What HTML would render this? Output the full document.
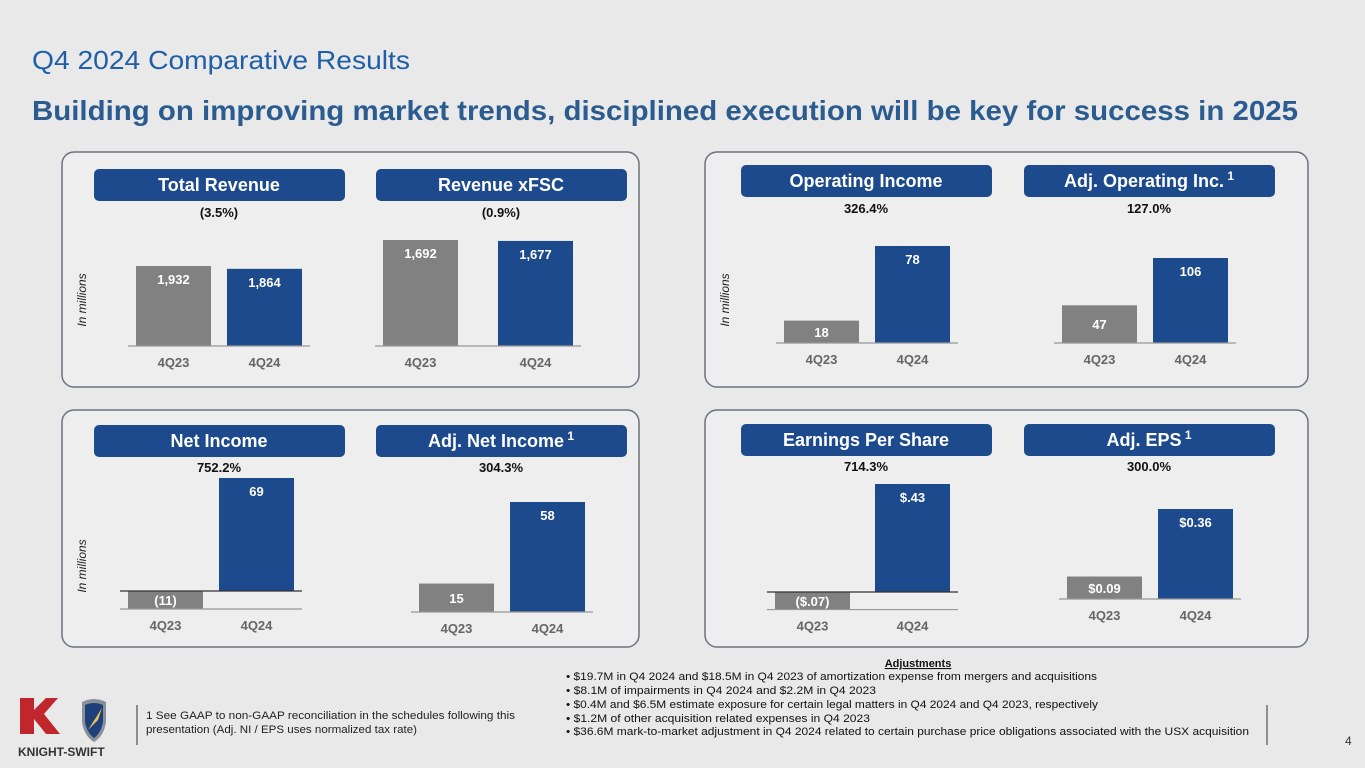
<!DOCTYPE html>
<html><head><meta charset="utf-8"><style>
html,body{margin:0;padding:0;background:#e9e9ea;}
svg{display:block;font-family:"Liberation Sans",sans-serif;}
</style></head><body>
<svg id="s" width="1365" height="768" viewBox="0 0 1365 768">
<rect width="1365" height="768" fill="#e9e9ea"/>
<text x="32" y="69" font-size="26" fill="#1f5fa8" textLength="378" lengthAdjust="spacingAndGlyphs">Q4 2024 Comparative Results</text>
<text x="32" y="120" font-size="28" font-weight="bold" fill="#2b5c8f" textLength="1266" lengthAdjust="spacingAndGlyphs">Building on improving market trends, disciplined execution will be key for success in 2025</text>
<rect x="62" y="152" width="577" height="235" rx="12" fill="#eeeeef" stroke="#6b7380" stroke-width="1.5"/>
<rect x="705" y="152" width="603" height="235" rx="12" fill="#eeeeef" stroke="#6b7380" stroke-width="1.5"/>
<rect x="62" y="410" width="577" height="237" rx="12" fill="#eeeeef" stroke="#6b7380" stroke-width="1.5"/>
<rect x="705" y="410" width="603" height="237" rx="12" fill="#eeeeef" stroke="#6b7380" stroke-width="1.5"/>
<text transform="translate(86,300) rotate(-90)" text-anchor="middle" font-size="12" font-style="italic" fill="#222">In millions</text>
<text transform="translate(729,300) rotate(-90)" text-anchor="middle" font-size="12" font-style="italic" fill="#222">In millions</text>
<text transform="translate(86,566) rotate(-90)" text-anchor="middle" font-size="12" font-style="italic" fill="#222">In millions</text>
<g id="charts"></g>
<text x="918" y="667" text-anchor="middle" font-size="11" font-weight="bold" fill="#111" text-decoration="underline">Adjustments</text>
<g font-size="11" fill="#111">
<text x="566" y="680" textLength="531" lengthAdjust="spacingAndGlyphs">•  $19.7M in Q4 2024 and $18.5M in Q4 2023 of amortization expense from mergers and acquisitions</text>
<text x="566" y="694" textLength="310" lengthAdjust="spacingAndGlyphs">•  $8.1M of impairments in Q4 2024 and $2.2M in Q4 2023</text>
<text x="566" y="708" textLength="532" lengthAdjust="spacingAndGlyphs">•  $0.4M and $6.5M estimate exposure for certain legal matters  in Q4 2024 and Q4 2023, respectively</text>
<text x="566" y="722" textLength="304" lengthAdjust="spacingAndGlyphs">•  $1.2M of other acquisition related expenses in Q4 2023</text>
<text x="566" y="735" textLength="683" lengthAdjust="spacingAndGlyphs">•  $36.6M mark-to-market adjustment in Q4 2024 related to certain purchase price obligations associated with the USX acquisition</text>
</g>
<line x1="137" y1="705" x2="137" y2="745" stroke="#333"/>
<line x1="1267" y1="705" x2="1267" y2="745" stroke="#333"/>
<text x="146" y="719" font-size="11" fill="#222"><tspan textLength="369" lengthAdjust="spacingAndGlyphs">1   See GAAP to non-GAAP reconciliation in the schedules following this</tspan><tspan x="146" dy="14" textLength="271" lengthAdjust="spacingAndGlyphs">presentation (Adj. NI / EPS uses normalized tax rate)</tspan></text>
<text x="1345" y="745" font-size="12" fill="#333">4</text>
<g>
<path d="M20 698 h14 v12 l12 -12 h12 l-14 16 l16 20 h-14 l-12 -15 v15 h-14 z" fill="#c0272d"/>
<path d="M82 702 q12 -6 24 0 v20 q-2 14 -12 20 q-10 -6 -12 -20 z" fill="#8a9098"/>
<path d="M85 705 q9 -4 18 0 v17 q-2 11 -9 16 q-7 -5 -9 -16 z" fill="#1f3f7a"/>
<path d="M88 730 l14 -22 l-4 12 z" fill="#e6c15a"/>
<text x="18" y="756" font-size="12" font-weight="bold" fill="#333">KNIGHT-SWIFT</text>
</g>
</svg>
<script>
const categories = ['4Q23','4Q24'];
const revenue = [1932, 1864];
const revenueXfsc = [1692, 1677];
const opIncome = [18, 78];
const adjOpIncome = [47, 106];
const netIncome = [-11, 69];
const adjNetIncome = [15, 58];
const eps = [-0.07, 0.43];
const adjEps = [0.09, 0.36];
const revenueLabels = ['1,932','1,864'];
const revenueXfscLabels = ['1,692','1,677'];
const opIncomeLabels = ['18','78'];
const adjOpIncomeLabels = ['47','106'];
const netIncomeLabels = ['(11)','69'];
const adjNetIncomeLabels = ['15','58'];
const epsLabels = ['($.07)','$.43'];
const adjEpsLabels = ['$0.09','$0.36'];
const titles = ['Total Revenue','Revenue xFSC','Operating Income','Adj. Operating Inc.','Net Income','Adj. Net Income','Earnings Per Share','Adj. EPS'];
const changes = ['(3.5%)','(0.9%)','326.4%','127.0%','752.2%','304.3%','714.3%','300.0%'];

const NS='http://www.w3.org/2000/svg';
const root=document.getElementById('charts');
function mk(tag,attrs,parent){const e=document.createElementNS(NS,tag);for(const k in attrs)e.setAttribute(k,attrs[k]);(parent||root).appendChild(e);return e;}

const layout=[
 {vals:revenue,labs:revenueLabels,px:94,py:169,x0:136,gap:91,base:346,k:80/1932,sup:false,name:'total-revenue'},
 {vals:revenueXfsc,labs:revenueXfscLabels,px:376,py:169,x0:383,gap:115,base:346,k:106/1692,sup:false,name:'revenue-xfsc'},
 {vals:opIncome,labs:opIncomeLabels,px:741,py:165,x0:784,gap:91,base:343,k:97/78,sup:false,name:'operating-income'},
 {vals:adjOpIncome,labs:adjOpIncomeLabels,px:1024,py:165,x0:1062,gap:91,base:343,k:85/106,sup:true,name:'adj-operating-income'},
 {vals:netIncome,labs:netIncomeLabels,px:94,py:425,x0:128,gap:91,base:591,k:113/69,sup:false,name:'net-income'},
 {vals:adjNetIncome,labs:adjNetIncomeLabels,px:376,py:425,x0:419,gap:91,base:612,k:110/58,sup:true,name:'adj-net-income'},
 {vals:eps,labs:epsLabels,px:741,py:424,x0:775,gap:100,base:592,k:108/0.43,sup:false,name:'eps'},
 {vals:adjEps,labs:adjEpsLabels,px:1024,py:424,x0:1067,gap:91,base:599,k:90/0.36,sup:true,name:'adj-eps'}
];
layout.forEach((c,i)=>{
 const g=mk('g',{});
 
 
 const pill=mk('rect',{x:c.px,y:c.py,width:251,height:32,rx:5,fill:'#1c4a8c'},g);
 
 
 const t=mk('text',{x:c.px+125,y:c.py+22,'text-anchor':'middle','font-size':18,'font-weight':'bold',fill:'#fff'},g);
 t.textContent=titles[i];
 
 
 if(c.sup){const s=mk('tspan',{dy:-7,'font-size':12},t);s.textContent=' 1';}
 const pc=mk('text',{x:c.px+125,y:c.py+(i<4?48:47),'text-anchor':'middle','font-size':13,'font-weight':'bold',fill:'#111'},g);
 pc.textContent=changes[i];
 
 
 let minY=c.base;
 c.vals.forEach((v,j)=>{
  const h=Math.abs(v)*c.k;
  const x=c.x0+j*c.gap;
  const y=v>=0?c.base-h:c.base;
  minY=Math.max(minY,v<0?c.base+h:c.base);
  const r=mk('rect',{x:x,y:y,width:75,height:h,fill:j===0?'#818181':'#1c4a8c'},g);
  
  
  const ly=(h<40)?y+h/2+5:y+18;
  const l=mk('text',{x:x+37.5,y:ly,'text-anchor':'middle','font-size':13,'font-weight':'bold',fill:'#fff'},g);
  l.textContent=c.labs[j];
  
  
 });
 const xl=c.x0-8, xr=c.x0+c.gap+75+8;
 const ax=mk('line',{x1:xl,x2:xr,y1:c.base,y2:c.base,stroke:minY>c.base?'#333':'#999','stroke-width':1.2},g);
 
 
 if(minY>c.base){
  const ax2=mk('line',{x1:xl,x2:xr,y1:minY,y2:minY,stroke:'#999','stroke-width':1.2},g);
  
  
 }
 categories.forEach((cat,j)=>{
  const ct=mk('text',{x:c.x0+j*c.gap+37.5,y:minY+21,'text-anchor':'middle','font-size':13,'font-weight':'bold',fill:'#666'},g);
  ct.textContent=cat;
  
  
 });
});
</script>
</body></html>
